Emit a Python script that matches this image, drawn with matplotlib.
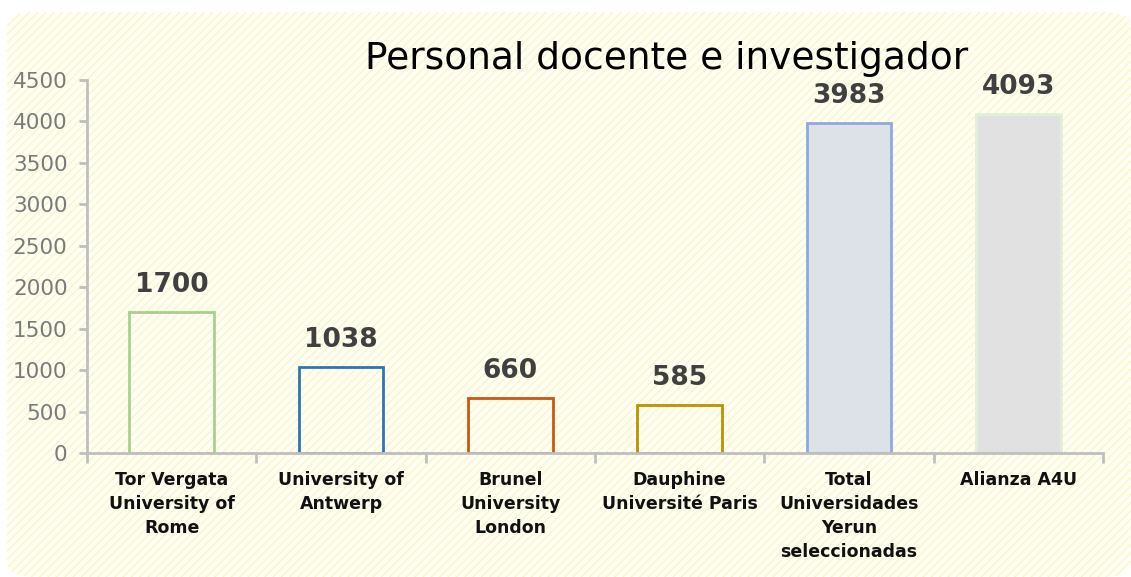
import matplotlib
matplotlib.use("Agg")
import matplotlib.pyplot as plt
from matplotlib.patches import FancyBboxPatch

categories = ["Tor Vergata\nUniversity of\nRome", "University of\nAntwerp",
              "Brunel\nUniversity\nLondon", "Dauphine\nUniversité Paris",
              "Total\nUniversidades\nYerun\nseleccionadas", "Alianza A4U"]
values = [1700, 1038, 660, 585, 3983, 4093]
edge_colors = ["#A9D18E", "#2E75B6", "#C55A11", "#BF9000", "#8FAADC", "#E2EFD9"]
face_colors = ["none", "none", "none", "none", "#DDE1E8", "#E1E1E1"]
title = "Personal docente e investigador"

plt.rcParams['hatch.linewidth'] = 1.0
fig = plt.figure(figsize=(11.31, 5.77), dpi=100)
fig.patch.set_facecolor("white")

bg = FancyBboxPatch((7/1131, 0.0), 1 - 7/1131, 1 - 12/577,
                    boxstyle="round,pad=0,rounding_size=0.025",
                    transform=fig.transFigure, facecolor="#FFFFF3",
                    edgecolor="#F8F5CC", linewidth=0, hatch="////", zorder=-5)
fig.patches.append(bg)

ax = fig.add_axes([87/1131, 1 - 453/577, (1103 - 87)/1131, (453 - 80)/577])
ax.set_zorder(2)
ax.set_facecolor("none")
x = list(range(len(categories)))
ax.bar(x, values, width=0.5, facecolor=face_colors, edgecolor=edge_colors,
       linewidth=2, zorder=2)
for xi, v in zip(x, values):
    ax.annotate(f"{v}", (xi, v), xytext=(0, 10), textcoords="offset points",
                ha="center", va="bottom", fontsize=19, fontweight="bold",
                color="#404040")

ax.set_xlim(-0.5, len(categories) - 0.5)
ax.set_ylim(0, 4500)
ax.set_yticks(range(0, 4501, 500))
ax.tick_params(axis="y", labelsize=15.5, labelcolor="#7A7A7A", color="#BFBFBF",
               length=6, width=2, pad=8)
ax.set_xticks(x)
ax.set_xticklabels(categories, fontsize=12.5, fontweight="bold", color="#111111",
                   linespacing=1.42)
ax.tick_params(axis="x", length=0, pad=13)
ax.set_xticks([i - 0.5 for i in range(len(categories) + 1)], minor=True)
ax.tick_params(axis="x", which="minor", length=7, width=2, color="#BFBFBF")
for s in ["top", "right"]:
    ax.spines[s].set_visible(False)
for s in ["left", "bottom"]:
    ax.spines[s].set_color("#BFBFBF")
    ax.spines[s].set_linewidth(2)

fig.text(667/1131, 1 - 59/577, title, ha="center", va="center", fontsize=27,
         color="#000000", zorder=3)

fig.savefig("out.png", dpi=100)
